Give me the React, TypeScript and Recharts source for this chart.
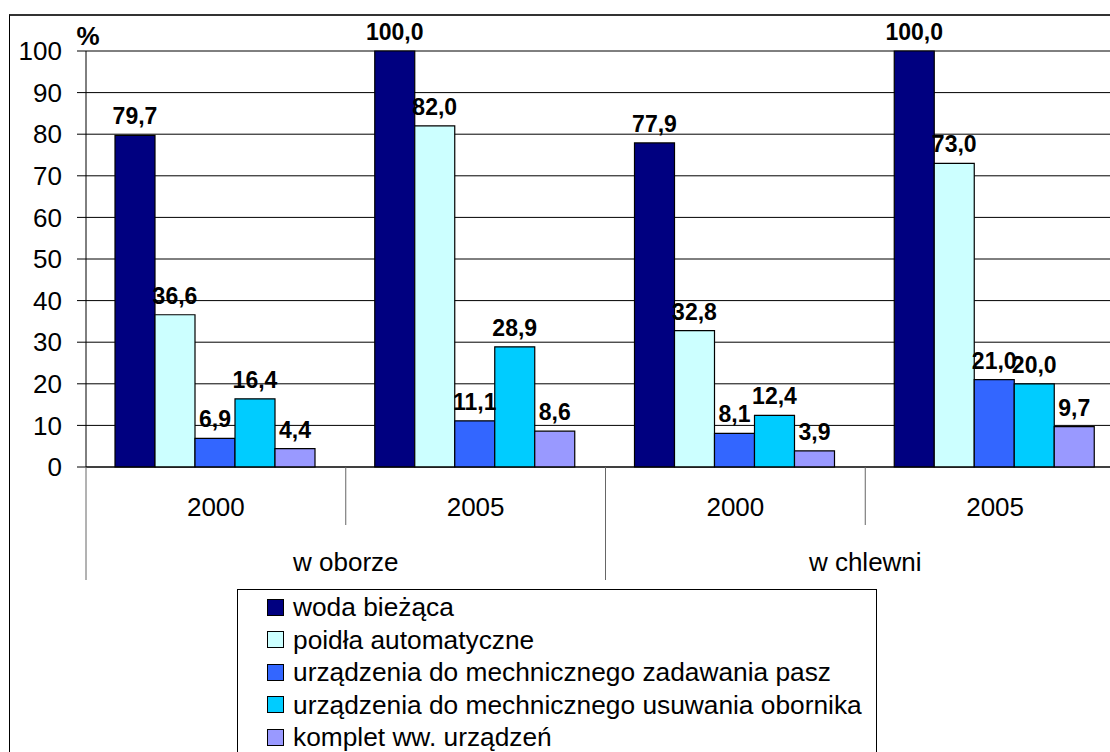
import React from 'react';
import { BarChart, Bar, XAxis, YAxis, CartesianGrid, LabelList, Legend } from 'recharts';

const years = ['2000', '2005', '2000', '2005'];
const groups = ['w oborze', 'w oborze', 'w chlewni', 'w chlewni'];
const seriesNames = [
  'woda bieżąca',
  'poidła automatyczne',
  'urządzenia do mechnicznego zadawania pasz',
  'urządzenia do mechnicznego usuwania obornika',
  'komplet ww. urządzeń',
];
const seriesColors = ['#000080', '#CCFFFF', '#3366FF', '#00CCFF', '#9999FF'];
const wodaBiezaca = [79.7, 100.0, 77.9, 100.0];
const poidla = [36.6, 82.0, 32.8, 73.0];
const zadawaniePasz = [6.9, 11.1, 8.1, 21.0];
const usuwanieObornika = [16.4, 28.9, 12.4, 20.0];
const komplet = [4.4, 8.6, 3.9, 9.7];
const yTicks = [0, 10, 20, 30, 40, 50, 60, 70, 80, 90, 100];

const seriesValues = [wodaBiezaca, poidla, zadawaniePasz, usuwanieObornika, komplet];
const data = years.map((year, i) => {
  const row: Record<string, string | number> = { year, group: groups[i] };
  seriesValues.forEach((vals, s) => {
    row['s' + s] = vals[i];
  });
  return row;
});

const FONT = 'Liberation Sans, Arial, sans-serif';
const CHART_W = 1130;
const CHART_H = 760;
const M_TOP = 51;
const M_RIGHT = 5;
const Y_W = 86;
const PLOT_H = 416;
const PLOT_BOTTOM = M_TOP + PLOT_H;
const BAND = (CHART_W - M_RIGHT - Y_W) / years.length;

const XTick = (props: any) => {
  const { x, index, payload } = props;
  const half = BAND / 2;
  const left = x - half;
  const groupStart = index % 2 === 0;
  return (
    <g>
      <line x1={left} x2={left} y1={PLOT_BOTTOM} y2={groupStart ? 580 : 525} stroke="#666" strokeWidth={1} />
      {index === years.length - 1 && (
        <line x1={x + half} x2={x + half} y1={PLOT_BOTTOM} y2={580} stroke="#666" strokeWidth={1} />
      )}
      <text x={x} y={516} textAnchor="middle" fontSize={26} fontFamily={FONT} fill="#000">
        {payload.value}
      </text>
      {!groupStart && (
        <text x={left} y={571} textAnchor="middle" fontSize={26} fontFamily={FONT} fill="#000">
          {groups[index]}
        </text>
      )}
    </g>
  );
};

const PercentLabel = (props: any) => {
  const vb = props.viewBox || { x: 0, y: M_TOP, width: Y_W };
  return (
    <text x={vb.x + vb.width + 2} y={vb.y - 6} textAnchor="middle" fontSize={26} fontWeight="bold" fontFamily={FONT} fill="#000">
      %
    </text>
  );
};

const ValueLabel = (props: any) => {
  const { x, y, width, value } = props;
  return (
    <text
      x={Number(x) + Number(width) / 2}
      y={Number(y) - 11}
      textAnchor="middle"
      fontSize={23}
      fontWeight="bold"
      fontFamily={FONT}
      fill="#000"
    >
      {Number(value).toFixed(1).replace('.', ',')}
    </text>
  );
};

const LegendContent = () => (
  <div style={{ paddingTop: 1, paddingLeft: 29, fontFamily: FONT }}>
    {seriesNames.map((name, i) => (
      <div key={name} style={{ display: 'flex', alignItems: 'center', height: 32.5 }}>
        <span
          style={{
            display: 'inline-block',
            width: 15,
            height: 15,
            background: seriesColors[i],
            border: '1.5px solid #000',
            marginRight: 9,
            flex: 'none',
          }}
        />
        <span style={{ fontSize: 26.3, color: '#000', whiteSpace: 'nowrap', lineHeight: '30px' }}>{name}</span>
      </div>
    ))}
  </div>
);

export default function App() {
  return (
    <div style={{ position: 'fixed', left: 0, top: 0, width: 1110, height: 752, overflow: 'hidden', background: '#fff' }}>
      <div
        style={{
          position: 'absolute',
          left: 9,
          top: 14,
          width: 1200,
          height: 800,
          borderTop: '2px solid #333',
          borderLeft: '1px solid #000',
        }}
      />
      <div style={{ position: 'absolute', left: 0, top: 0 }}>
        <BarChart
          width={CHART_W}
          height={CHART_H}
          data={data}
          margin={{ top: M_TOP, right: M_RIGHT, left: 0, bottom: 0 }}
          barCategoryGap={29}
          barGap={0}
        >
          <CartesianGrid horizontal vertical={false} stroke="#000" strokeWidth={1} />
          <XAxis
            dataKey="year"
            height={CHART_H - PLOT_BOTTOM}
            axisLine={{ stroke: '#000', strokeWidth: 1 }}
            tickLine={false}
            interval={0}
            tick={<XTick />}
          />
          <YAxis
            width={Y_W}
            domain={[0, 100]}
            ticks={yTicks}
            interval={0}
            tickSize={9}
            tickMargin={15}
            axisLine={{ stroke: '#000', strokeWidth: 1 }}
            tickLine={{ stroke: '#000', strokeWidth: 1 }}
            tick={{ fontSize: 26, fontFamily: FONT, fill: '#000' }}
            label={<PercentLabel />}
          />
          <Legend
            layout="vertical"
            align="center"
            verticalAlign="middle"
            content={<LegendContent />}
            wrapperStyle={{
              position: 'absolute',
              left: 237,
              top: 589,
              width: 640,
              height: 200,
              border: '1px solid #000',
              background: '#fff',
              boxSizing: 'border-box',
            }}
          />
          {seriesNames.map((name, i) => (
            <Bar
              key={name}
              dataKey={'s' + i}
              name={name}
              fill={seriesColors[i]}
              stroke="#000"
              strokeWidth={1.2}
              isAnimationActive={false}
            >
              <LabelList dataKey={'s' + i} content={<ValueLabel />} />
            </Bar>
          ))}
        </BarChart>
      </div>
    </div>
  );
}
